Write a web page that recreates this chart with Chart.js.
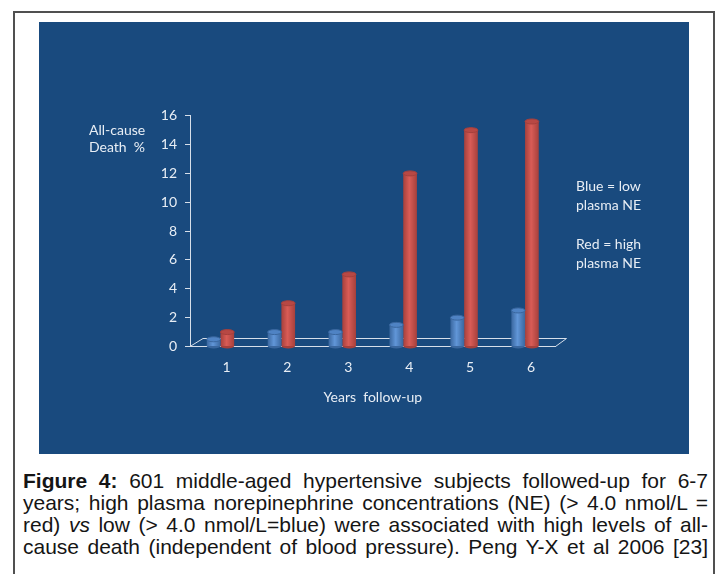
<!DOCTYPE html>
<html>
<head>
<meta charset="utf-8">
<script src="https://cdn.jsdelivr.net/npm/chart.js@4.4.1/dist/chart.umd.min.js"></script>
<style>
  body { margin:0; background:#fff; width:718px; height:574px; overflow:hidden; position:relative; }
  .frame { position:absolute; left:13px; top:11px; width:698px; height:600px; border:2px solid #505050; border-bottom:none; }
  .panel { position:absolute; left:39px; top:22px; width:650px; height:432px; background:#194a7e; }
  #chart { position:absolute; left:0; top:0; }
  .note { position:absolute; color:#e8eef5; font-family:Lato, sans-serif; font-size:14px; line-height:18.5px; white-space:nowrap; }
  .caption { position:absolute; left:23px; top:470px; width:685px; font-family:'Liberation Sans', Arial, sans-serif; font-size:21px; line-height:22px; color:#151515; }
  .caption div { white-space:nowrap; }
  .caption span { display:inline-block; transform-origin:0 50%; }
</style>
</head>
<body>
<div class="frame"></div>
<div class="panel">
  <canvas id="chart" width="650" height="432"></canvas>
  <div class="note" style="left:50px; top:99px; line-height:17px;">All-cause<br>Death&nbsp; %</div>
  <div class="note" style="left:537px; top:155px;">Blue = low<br>plasma NE</div>
  <div class="note" style="left:537px; top:213px;">Red = high<br>plasma NE</div>
</div>
<div class="caption">
  <div><span><b>Figure 4:</b> 601 middle-aged hypertensive subjects followed-up for 6-7</span></div>
  <div><span>years; high plasma norepinephrine concentrations (NE) (&gt; 4.0 nmol/L =</span></div>
  <div><span>red) <i>vs</i> low (&gt; 4.0 nmol/L=blue) were associated with high levels of all-</span></div>
  <div><span>cause death (independent of blood pressure). Peng Y-X et al 2006 [23]</span></div>
</div>
<script>
// data
const years = ['1', '2', '3', '4', '5', '6'];
const lowNE = [0.5, 1, 1, 1.5, 2, 2.5];
const highNE = [1, 3, 5, 12, 15, 15.6];
const yTickValues = [0, 2, 4, 6, 8, 10, 12, 14, 16];

const axisColor = '#d6dfea';
const textColor = '#e8eef5';

// bar colours: edge, middle, cap
const blueShade = ['#3a679f', '#6196d8', '#4f83c4'];
const redShade = ['#a6403c', '#d95c56', '#b84844'];

// caption lines: stretch the spaces (or squeeze) so every line fills the width
const captionWidth = 685;
document.querySelectorAll('.caption span').forEach(sp => {
	const w = sp.getBoundingClientRect().width;
	const gaps = (sp.textContent.match(/ /g) || []).length;
	const extra = (captionWidth - w) / gaps;
	if (extra >= -1.5) {
		sp.style.wordSpacing = extra + 'px';
	} else {
		sp.style.transform = 'scaleX(' + (captionWidth / w) + ')';
	}
});

// cylinder look: horizontal gradient on each bar
const cylinders = {
	id: 'cylinders',
	beforeDatasetsDraw(chart) {
		const ctx = chart.ctx;
		chart.data.datasets.forEach((ds, i) => {
			const shade = i === 0 ? blueShade : redShade;
			chart.getDatasetMeta(i).data.forEach(bar => {
				const l = bar.x - bar.width / 2, r = bar.x + bar.width / 2;
				const g = ctx.createLinearGradient(l, 0, r, 0);
				g.addColorStop(0, shade[0]);
				g.addColorStop(0.45, shade[1]);
				g.addColorStop(1, shade[0]);
				bar.options = Object.assign({}, bar.options, { backgroundColor: g });
			});
		});
	},
	afterDatasetsDraw(chart) {
		const ctx = chart.ctx;
		ctx.save();
		chart.data.datasets.forEach((ds, i) => {
			const shade = i === 0 ? blueShade : redShade;
			chart.getDatasetMeta(i).data.forEach(bar => {
				const rx = bar.width / 2;
				// rounded bottom
				ctx.beginPath();
				ctx.ellipse(bar.x, bar.base, rx, 2.5, 0, 0, Math.PI);
				ctx.fillStyle = shade[0];
				ctx.fill();
				// top cap
				ctx.beginPath();
				ctx.ellipse(bar.x, bar.y, rx, 2.5, 0, 0, Math.PI * 2);
				ctx.fillStyle = shade[2];
				ctx.fill();
				ctx.strokeStyle = shade[0];
				ctx.lineWidth = 1;
				ctx.stroke();
			});
		});
		ctx.restore();
	}
};

// the 3D floor behind the bars
const floor = {
	id: 'floor',
	beforeDatasetsDraw(chart) {
		const { left, right, bottom } = chart.chartArea;
		const ctx = chart.ctx;
		ctx.save();
		ctx.strokeStyle = axisColor;
		ctx.lineWidth = 1;
		ctx.beginPath();
		ctx.moveTo(left, bottom);
		ctx.lineTo(left + 13, bottom - 8);
		ctx.lineTo(right + 11, bottom - 8);
		ctx.lineTo(right, bottom);
		ctx.stroke();
		ctx.restore();
	}
};

const cht = document.getElementById('chart').getContext('2d');

const data = {
	labels: years,
	datasets: [
		{ label: 'Low plasma NE', data: lowNE, backgroundColor: blueShade[1], borderColor: blueShade[0], borderWidth: 0 },
		{ label: 'High plasma NE', data: highNE, backgroundColor: redShade[1], borderColor: redShade[0], borderWidth: 0 }
	]
};

const config = {
	type: 'bar',
	data: data,
	options: {
		responsive: false,
		animation: false,
		categoryPercentage: 0.45,
		barPercentage: 1,
		layout: { padding: { top: 93.7, right: 133.5, bottom: 0, left: 0 } },
		plugins: { legend: { display: false }, tooltip: { enabled: false } },
		scales: {
			x: {
				grid: { display: true, drawOnChartArea: false, drawTicks: false },
				border: { display: true, color: axisColor, width: 1 },
				ticks: { color: textColor, font: { family: 'Lato', size: 14 }, padding: 13, labelOffset: 6 },
				title: { display: true, text: 'Years  follow-up', color: textColor, font: { family: 'Lato', size: 14 }, padding: { top: 0, bottom: 48 } },
				afterFit(scale) { scale.height = 107.5; }
			},
			y: {
				min: 0,
				max: 16,
				afterBuildTicks(scale) { scale.ticks = yTickValues.map(v => ({ value: v })); },
				grid: { drawOnChartArea: false, drawTicks: true, tickLength: 5, color: axisColor },
				border: { display: true, color: axisColor, width: 1 },
				ticks: { color: textColor, font: { family: 'Lato', size: 14 }, padding: 8 },
				afterFit(scale) { scale.width = 151; }
			}
		}
	},
	plugins: [floor, cylinders]
};

const myChart = new Chart(cht, config);
</script>
</body>
</html>
